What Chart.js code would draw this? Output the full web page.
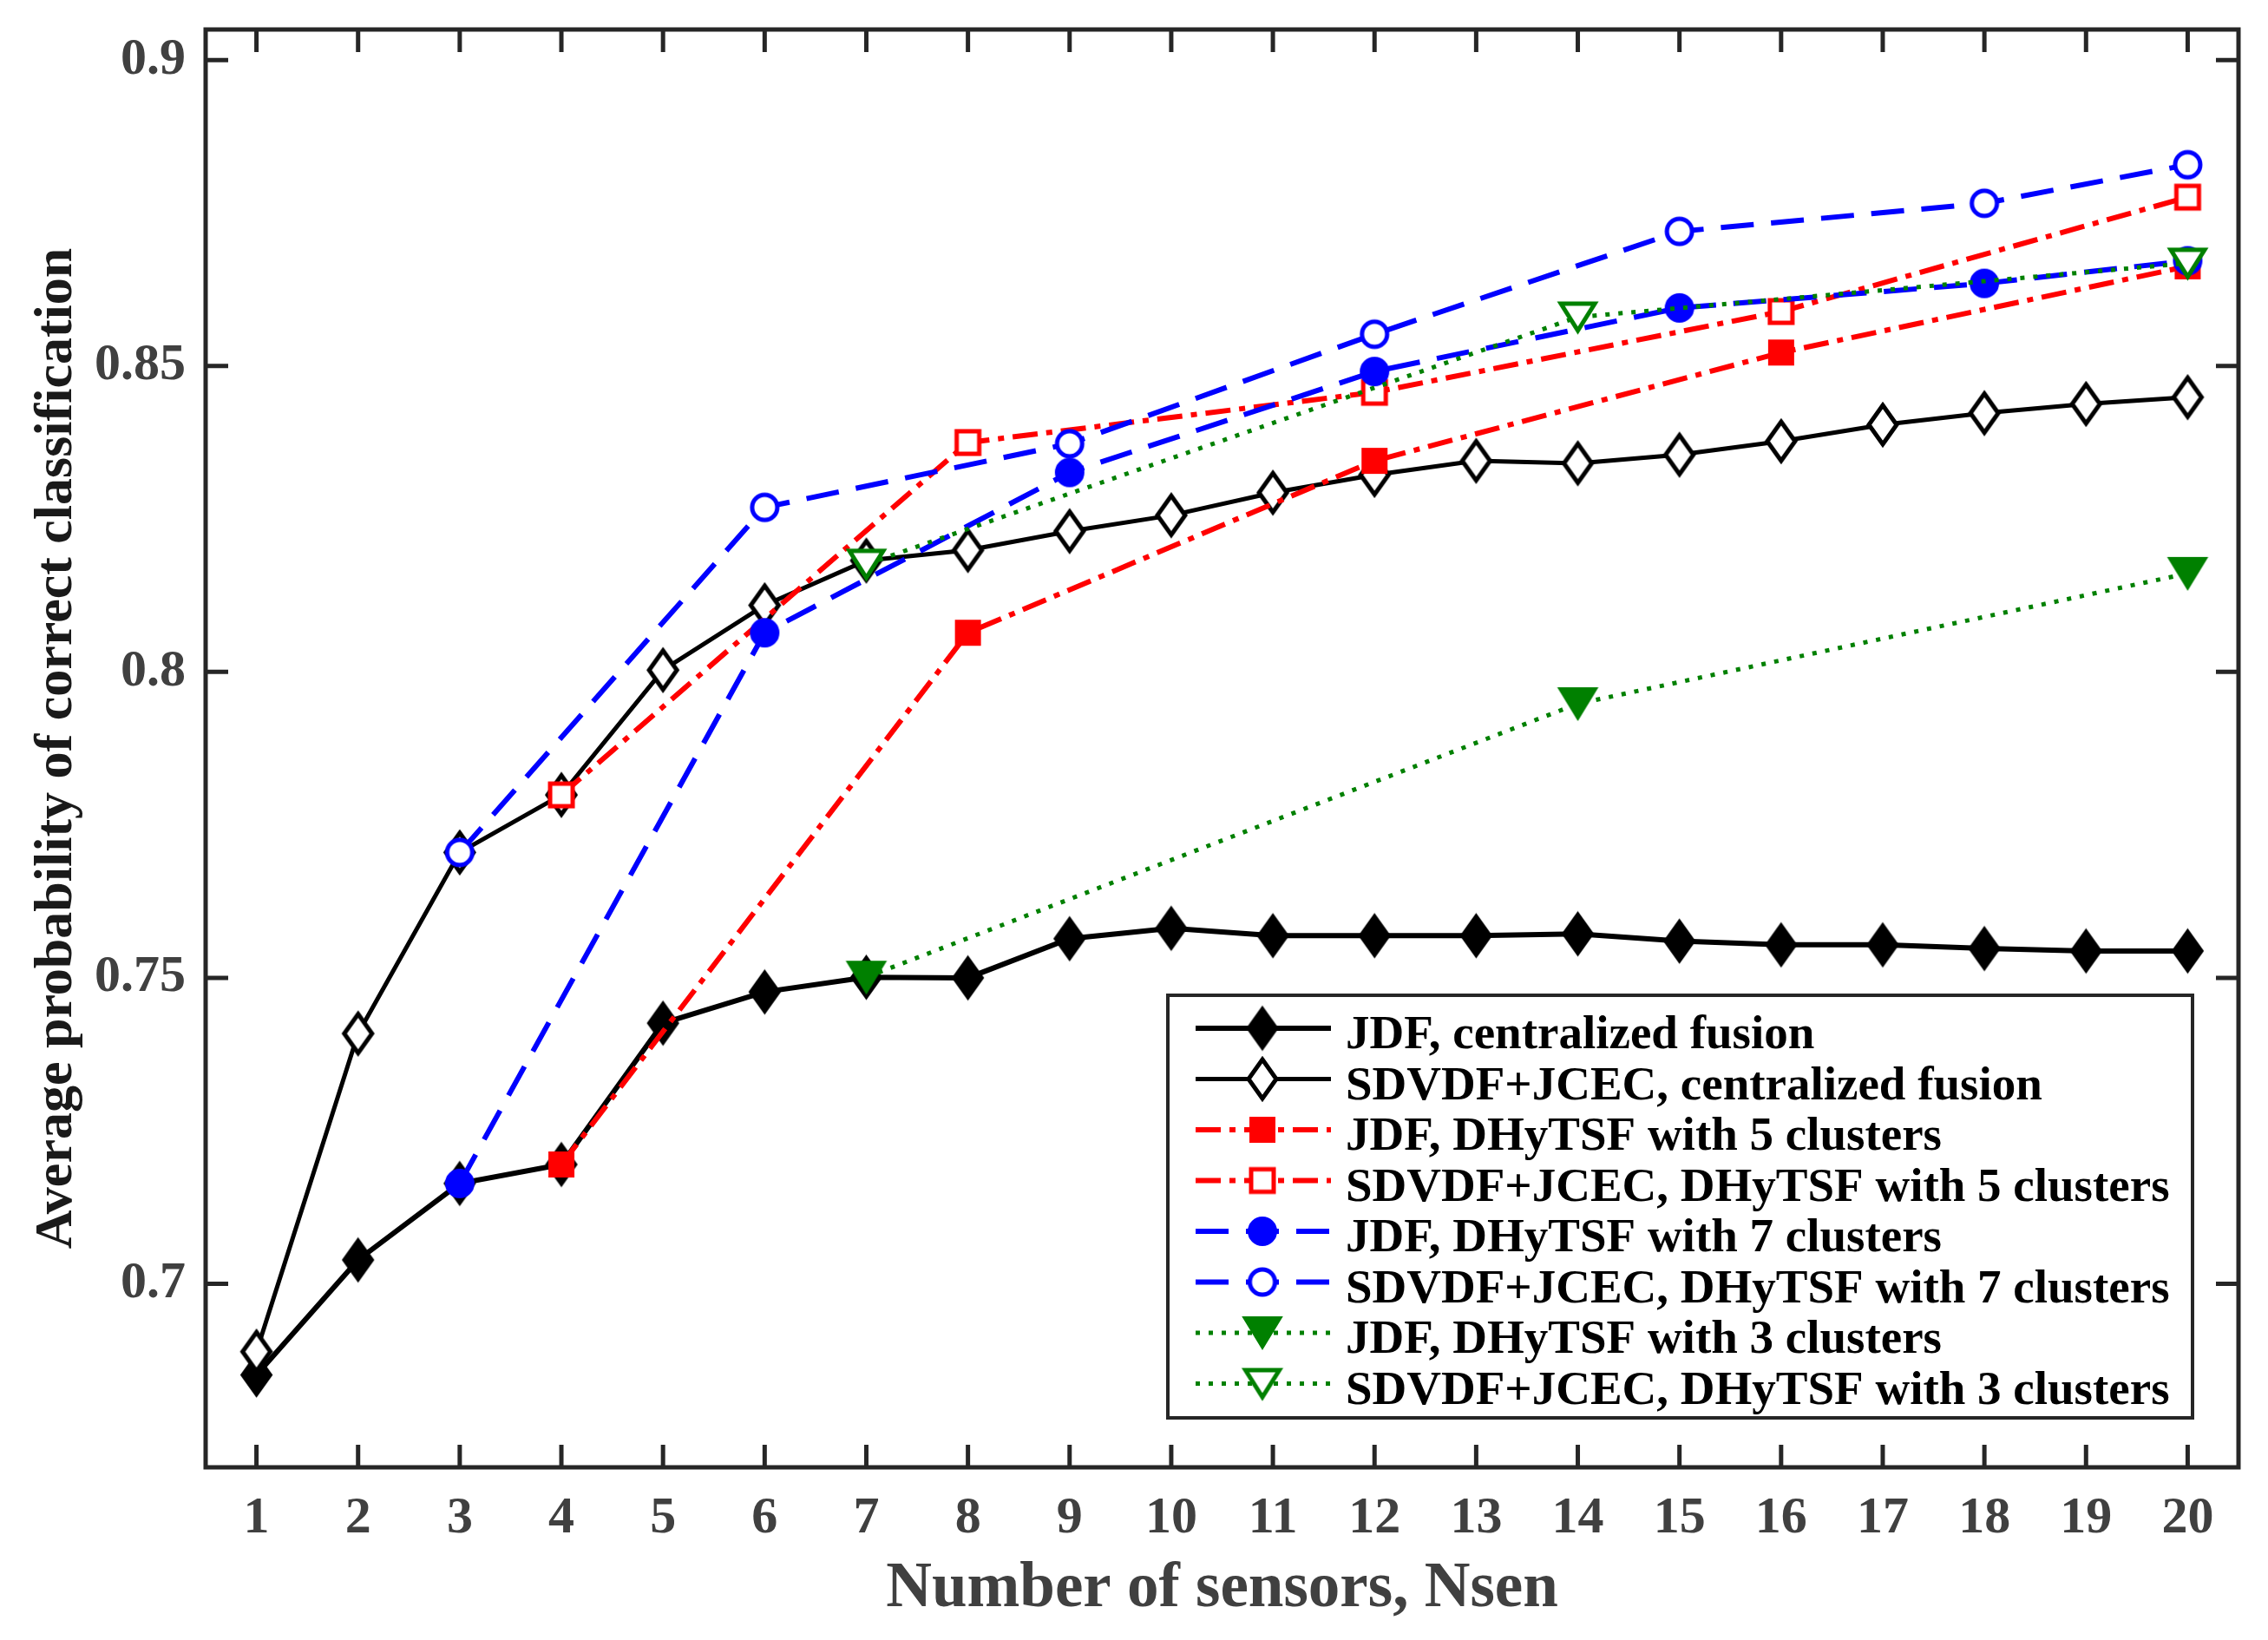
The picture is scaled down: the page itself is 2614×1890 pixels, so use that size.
<!DOCTYPE html>
<html lang="en">
<head>
<meta charset="UTF-8">
<title>Average probability of correct classification</title>
<script src="https://cdn.jsdelivr.net/npm/chart.js@4.4.1/dist/chart.umd.min.js"></script>
<style>
  html, body { margin: 0; padding: 0; background: #ffffff; }
  #wrap { width: 2614px; height: 1890px; }
</style>
</head>
<body>
<div id="wrap"><canvas id="chart" width="2614" height="1890"></canvas></div>
<script>
// ---- data ----
const nsenAll = [1, 2, 3, 4, 5, 6, 7, 8, 9, 10, 11, 12, 13, 14, 15, 16, 17, 18, 19, 20];
const nsen5 = [4, 8, 12, 16, 20];
const nsen7 = [3, 6, 9, 12, 15, 18, 20];
const nsen3 = [7, 14, 20];

const jdfCentral   = [0.6851, 0.7039, 0.7164, 0.7195, 0.7426, 0.7477, 0.7501, 0.7500, 0.7564, 0.7581,
                      0.7569, 0.7569, 0.7569, 0.7572, 0.7560, 0.7554, 0.7554, 0.7548, 0.7544, 0.7544];
const sdvdfCentral = [0.6889, 0.7409, 0.7705, 0.7799, 0.8003, 0.8109, 0.8182, 0.8199, 0.8230, 0.8256,
                      0.8293, 0.8322, 0.8345, 0.8341, 0.8355, 0.8377, 0.8404, 0.8423, 0.8438, 0.8449];
const jdf5   = [0.7195, 0.8064, 0.8345, 0.8522, 0.8663];
const sdvdf5 = [0.7799, 0.8375, 0.8457, 0.8589, 0.8776];
const jdf7   = [0.7164, 0.8064, 0.8326, 0.8491, 0.8595, 0.8635, 0.8672];
const sdvdf7 = [0.7705, 0.8269, 0.8373, 0.8552, 0.8720, 0.8766, 0.8829];
const jdf3   = [0.7501, 0.7948, 0.8161];
const sdvdf3 = [0.8176, 0.8580, 0.8668];

const xTicks = nsenAll;
const yTicks = [0.7, 0.75, 0.8, 0.85, 0.9];
const yTickLabels = ['0.7', '0.75', '0.8', '0.85', '0.9'];

const legendLabels = [
  'JDF, centralized fusion',
  'SDVDF+JCEC, centralized fusion',
  'JDF, DHyTSF with 5 clusters',
  'SDVDF+JCEC, DHyTSF with 5 clusters',
  'JDF, DHyTSF with 7 clusters',
  'SDVDF+JCEC, DHyTSF with 7 clusters',
  'JDF, DHyTSF with 3 clusters',
  'SDVDF+JCEC, DHyTSF with 3 clusters'
];

const FONT = "'Liberation Serif', 'Times New Roman', serif";
const AXIS = '#262626';

// marker images (MATLAB style shapes)
function makeMarker(shape, fill, stroke, w, h, lw) {
  const pad = lw + 6;
  const c = document.createElement('canvas');
  c.width = Math.ceil(w + 2 * pad);
  c.height = Math.ceil(h + 2 * pad);
  const g = c.getContext('2d');
  const cx = c.width / 2, cy = c.height / 2;
  g.beginPath();
  if (shape === 'diamond') {
    g.moveTo(cx, cy - h / 2);
    g.lineTo(cx + w / 2, cy);
    g.lineTo(cx, cy + h / 2);
    g.lineTo(cx - w / 2, cy);
  } else if (shape === 'square') {
    g.rect(cx - w / 2, cy - h / 2, w, h);
  } else if (shape === 'circle') {
    g.ellipse(cx, cy, w / 2, h / 2, 0, 0, Math.PI * 2);
  } else if (shape === 'triDown') {
    g.moveTo(cx - w / 2, cy - h / 2);
    g.lineTo(cx + w / 2, cy - h / 2);
    g.lineTo(cx, cy + h / 2);
  }
  g.closePath();
  g.fillStyle = fill;
  g.fill();
  g.lineWidth = lw;
  g.lineJoin = 'miter';
  g.miterLimit = 4;
  g.strokeStyle = stroke;
  g.stroke();
  return c;
}

const BLACK = '#000000', RED = '#ff0000', BLUE = '#0000ff', GREEN = '#008000', WHITE = '#ffffff';
const DASH_SOLID = [];
const DASH_DOTDASH = [29, 10, 7, 10];
const DASH_DASH = [38, 20];
const DASH_DOT = [5, 10];

const series = [
  { x: nsenAll, y: jdfCentral,   color: BLACK, dash: DASH_SOLID,   width: 6, marker: makeMarker('diamond', BLACK, BLACK, 35, 49, 2) },
  { x: nsenAll, y: sdvdfCentral, color: BLACK, dash: DASH_SOLID,   width: 5, marker: makeMarker('diamond', WHITE, BLACK, 32, 45, 5) },
  { x: nsen5,   y: jdf5,         color: RED,   dash: DASH_DOTDASH, width: 6, marker: makeMarker('square', RED, RED, 28, 28, 2) },
  { x: nsen5,   y: sdvdf5,       color: RED,   dash: DASH_DOTDASH, width: 6, marker: makeMarker('square', WHITE, RED, 26, 26, 5) },
  { x: nsen7,   y: jdf7,         color: BLUE,  dash: DASH_DASH,    width: 6, marker: makeMarker('circle', BLUE, BLUE, 32, 32, 2) },
  { x: nsen7,   y: sdvdf7,       color: BLUE,  dash: DASH_DASH,    width: 6, marker: makeMarker('circle', WHITE, BLUE, 29, 29, 5) },
  { x: nsen3,   y: jdf3,         color: GREEN, dash: DASH_DOT,     width: 5, marker: makeMarker('triDown', GREEN, GREEN, 44, 36, 2) },
  { x: nsen3,   y: sdvdf3,       color: GREEN, dash: DASH_DOT,     width: 5, marker: makeMarker('triDown', WHITE, GREEN, 39, 31, 5) }
];

const datasets = series.map((s, i) => ({
  label: legendLabels[i],
  data: s.x.map((x, k) => ({ x: x, y: s.y[k] })),
  borderColor: s.color,
  backgroundColor: s.color,
  borderWidth: s.width,
  borderDash: s.dash,
  borderCapStyle: 'butt',
  pointStyle: s.marker,
  pointRadius: 18,
  pointHoverRadius: 18,
  tension: 0,
  fill: false,
  clip: false,
  order: series.length - i   // later series drawn on top, as in the original
}));

// frame with inward ticks on all four sides
const framePlugin = {
  id: 'frame',
  afterDatasetsDraw(chart) {
    const { ctx, chartArea: a, scales: { x, y } } = chart;
    const tick = 26;
    ctx.save();
    ctx.strokeStyle = AXIS;
    ctx.lineWidth = 5;
    ctx.lineCap = 'butt';
    ctx.beginPath();
    x.ticks.forEach(t => {
      const px = x.getPixelForValue(t.value);
      ctx.moveTo(px, a.bottom); ctx.lineTo(px, a.bottom - tick);
      ctx.moveTo(px, a.top); ctx.lineTo(px, a.top + tick);
    });
    y.ticks.forEach(t => {
      const py = y.getPixelForValue(t.value);
      ctx.moveTo(a.left, py); ctx.lineTo(a.left + tick, py);
      ctx.moveTo(a.right, py); ctx.lineTo(a.right - tick, py);
    });
    ctx.stroke();
    ctx.lineWidth = 5;
    ctx.lineJoin = 'miter';
    ctx.strokeRect(a.left, a.top, a.right - a.left, a.bottom - a.top);
    ctx.restore();
  }
};

// legend box: line sample + marker + label, drawn from the dataset styles
const legendPlugin = {
  id: 'matlabLegend',
  afterDraw(chart) {
    const { ctx } = chart;
    const box = { left: 1346, top: 1147, right: 2527, bottom: 1634 };
    const rowTop = 1185, rowStep = 58.5;
    const lineX0 = 1378, lineX1 = 1534, markX = 1455, textX = 1551;
    ctx.save();
    ctx.fillStyle = '#ffffff';
    ctx.fillRect(box.left, box.top, box.right - box.left, box.bottom - box.top);
    ctx.strokeStyle = AXIS;
    ctx.lineWidth = 4;
    ctx.strokeRect(box.left, box.top, box.right - box.left, box.bottom - box.top);
    chart.data.datasets.forEach((ds, i) => {
      const yy = rowTop + i * rowStep;
      ctx.save();
      ctx.strokeStyle = ds.borderColor;
      ctx.lineWidth = ds.borderWidth;
      ctx.setLineDash(ds.borderDash);
      ctx.lineCap = 'butt';
      ctx.beginPath();
      ctx.moveTo(lineX0, yy);
      ctx.lineTo(lineX1, yy);
      ctx.stroke();
      ctx.restore();
      const m = ds.pointStyle;
      ctx.drawImage(m, markX - m.width / 2, yy - m.height / 2);
      ctx.fillStyle = '#000000';
      ctx.font = 'bold 55px ' + FONT;
      ctx.textAlign = 'left';
      ctx.textBaseline = 'alphabetic';
      ctx.fillText(ds.label, textX, yy + 23);
    });
    ctx.restore();
  }
};

new Chart(document.getElementById('chart'), {
  type: 'line',
  data: { datasets: datasets },
  options: {
    responsive: false,
    animation: false,
    devicePixelRatio: 1,
    layout: { padding: { top: 34, right: 34, left: 0, bottom: 0 } },
    plugins: {
      legend: { display: false },
      tooltip: { enabled: false },
      title: { display: false }
    },
    scales: {
      x: {
        type: 'linear',
        min: 0.5,
        max: 20.5,
        grid: { display: false, drawTicks: false },
        border: { display: false },
        afterBuildTicks: s => { s.ticks = xTicks.map(v => ({ value: v })); },
        afterFit: s => { s.height = 199; s.paddingLeft = 0; s.paddingRight = 0; },
        ticks: {
          autoSkip: false,
          maxRotation: 0,
          padding: 23,
          color: '#404040',
          font: { family: FONT, size: 60, weight: 'bold' },
          callback: v => String(v)
        },
        title: {
          display: true,
          text: 'Number of sensors, Nsen',
          color: '#404040',
          padding: { top: 0, bottom: 14 },
          font: { family: FONT, size: 73, weight: 'bold' }
        }
      },
      y: {
        type: 'linear',
        min: 0.67,
        max: 0.905,
        grid: { display: false, drawTicks: false },
        border: { display: false },
        afterBuildTicks: s => { s.ticks = yTicks.map(v => ({ value: v })); },
        afterFit: s => { s.width = 237; s.paddingTop = 0; s.paddingBottom = 0; },
        ticks: {
          padding: 23,
          color: '#404040',
          font: { family: FONT, size: 60, weight: 'bold' },
          callback: (v) => {
            const k = yTicks.findIndex(t => Math.abs(t - v) < 1e-9);
            return k >= 0 ? yTickLabels[k] : '';
          }
        },
        title: {
          display: true,
          text: 'Average probability of correct classification',
          color: '#1a1a1a',
          padding: { top: 29, bottom: 0 },
          font: { family: FONT, size: 62, weight: 'bold' }
        }
      }
    }
  },
  plugins: [framePlugin, legendPlugin]
});
</script>
</body>
</html>
